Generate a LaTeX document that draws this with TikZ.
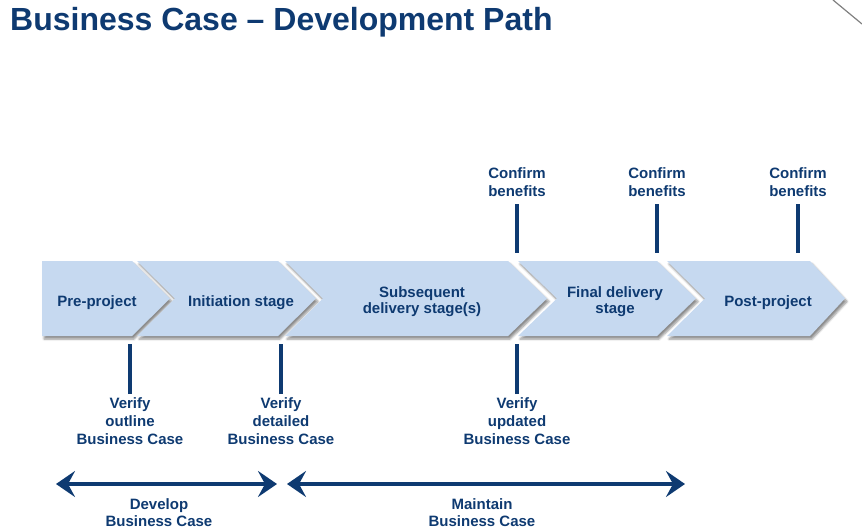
\documentclass[tikz,border=0pt]{standalone}
\usepackage{fontspec}
\setmainfont{Liberation Sans}
\usetikzlibrary{arrows.meta,shadows.blur}
\definecolor{navy}{RGB}{14,58,113}
\definecolor{paleblue}{RGB}{198,217,240}
\begin{document}
\begin{tikzpicture}[
    x=1pt, y=-1pt,
    every node/.style={font=\bfseries\fontsize{15}{18}\selectfont,
        text=navy, align=center, inner sep=0pt},
    chevron/.style={fill=paleblue, blur shadow={shadow xshift=2pt,
        shadow yshift=-3pt, shadow blur steps=6, shadow opacity=45}},
    bar/.style={navy, line width=3.5pt},
    span/.style={navy, line width=4pt,
        {Stealth[length=19pt,width=26pt,inset=7pt]}-{Stealth[length=19pt,width=26pt,inset=7pt]}}]
    \useasboundingbox (0,0) rectangle (862,532);

    % Title and the corner stroke.
    \node[font=\bfseries\fontsize{32}{36}\selectfont, anchor=base west]
        (title) at (10,31) {Business Case – Development Path};
    \draw[gray, line width=1.2pt] (833,0) -- (862,24);

    % Stage chevrons; only the first has a flat back.
    \fill[chevron] (42,261) -- (132,261) -- (170,298.5) -- (132,336)
        -- (42,336) -- cycle;
    \fill[chevron] (137,261) -- (278,261) -- (316,298.5) -- (278,336)
        -- (137,336) -- (175,298.5) -- cycle;
    \fill[chevron] (285,261) -- (508,261) -- (547,298.5) -- (508,336)
        -- (285,336) -- (323,298.5) -- cycle;
    \fill[chevron] (518,261) -- (657,261) -- (696,298.5) -- (657,336)
        -- (518,336) -- (557,298.5) -- cycle;
    \fill[chevron] (667,261) -- (810,261) -- (845,298.5) -- (810,336)
        -- (667,336) -- (705,298.5) -- cycle;

    % Stage names.
    \node[anchor=base] (pre) at (97,306) {Pre-project};
    \node[anchor=base] (init) at (241,306) {Initiation stage};
    \node[font=\bfseries\fontsize{15}{16}\selectfont] (subs) at (422,301.5)
        {Subsequent\\delivery stage(s)};
    \node[font=\bfseries\fontsize{15}{16}\selectfont] (final) at (615,301.5)
        {Final delivery\\stage};
    \node[anchor=base] (post) at (768,306) {Post-project};

    % Benefit reviews above the path.
    \node[anchor=south] (cf1) at (517,197) {Confirm\\benefits};
    \node[anchor=south] (cf2) at (657,197) {Confirm\\benefits};
    \node[anchor=south] (cf3) at (798,197) {Confirm\\benefits};
    \draw[bar] ([yshift=-7pt]cf1.south) -- ++(0,49);
    \draw[bar] ([yshift=-7pt]cf2.south) -- ++(0,49);
    \draw[bar] ([yshift=-7pt]cf3.south) -- ++(0,49);

    % Verification points below the path.
    \node[anchor=north] (vf1) at (130,397) {Verify\\outline\\Business Case};
    \node[anchor=north] (vf2) at (281,397) {Verify\\detailed\\Business Case};
    \node[anchor=north] (vf3) at (517,397) {Verify\\updated\\Business Case};
    \draw[bar] ([yshift=3pt]vf1.north) -- ++(0,-50);
    \draw[bar] ([yshift=3pt]vf2.north) -- ++(0,-50);
    \draw[bar] ([yshift=3pt]vf3.north) -- ++(0,-50);

    % Spans for developing and maintaining the case.
    \coordinate (devL) at (56,484);
    \coordinate (devR) at (277,484);
    \coordinate (mntL) at (287,484);
    \coordinate (mntR) at (685,484);
    \draw[span] (devL) -- (devR);
    \draw[span] (mntL) -- (mntR);
    \node[font=\bfseries\fontsize{15}{17}\selectfont, anchor=north]
        (dev) at (159,498) {Develop\\Business Case};
    \node[font=\bfseries\fontsize{15}{17}\selectfont, anchor=north]
        (mnt) at (482,498) {Maintain\\Business Case};
\end{tikzpicture}
\end{document}
